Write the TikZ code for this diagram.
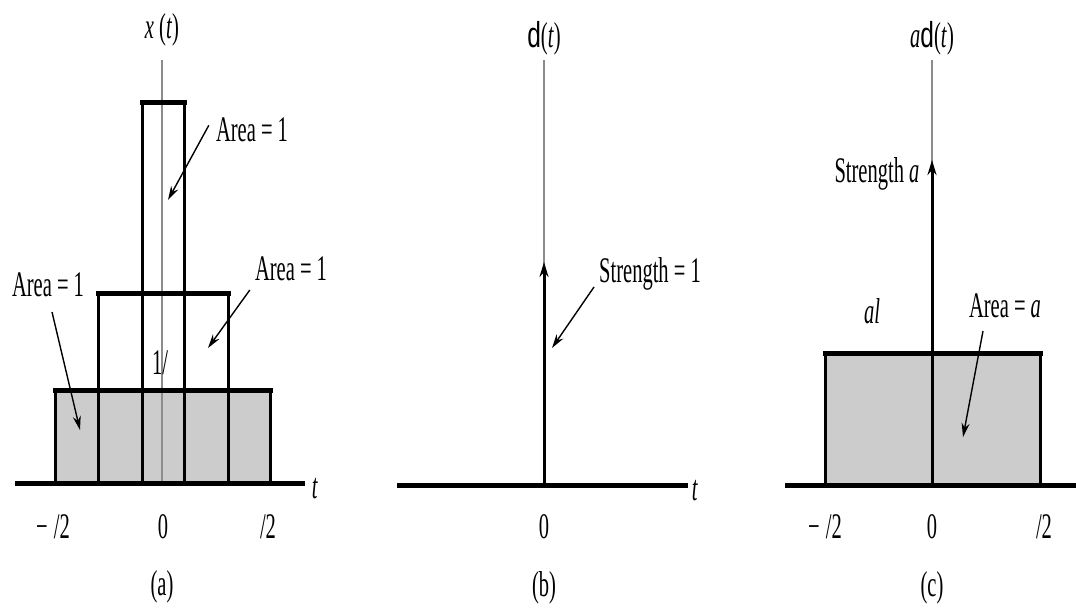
\documentclass[tikz,border=0pt]{standalone}
\usepackage{fontspec}
\setmainfont{Liberation Serif}[FakeStretch=0.57]
\setsansfont{Liberation Sans}[FakeStretch=0.68]
\usetikzlibrary{arrows.meta}

\begin{document}
\begin{tikzpicture}[
    x=1pt, y=-1pt,
    lbl/.style={inner sep=0pt, anchor=base, font=\fontsize{36}{40}\selectfont},
    axisline/.style={line width=5pt},
    side/.style={line width=3pt},
    topline/.style={line width=5pt, line cap=rect},
    guide/.style={black!45, line width=1.2pt},
    shade/.style={fill=black!20},
    callout/.style={-{Stealth[length=14pt, width=8pt]}, line width=1.4pt},
    impulse/.style={-{Stealth[length=15pt, width=9pt]}, line width=3pt}
]
    \useasboundingbox (0,0) rectangle (1076,611);

    % (a) pulses of unit area
    \fill[shade] (55,483) rectangle (270,390);
    \draw[guide] (162,60) -- (162,483);
    \draw[side] (55,483) -- (55,390) (270,390) -- (270,483);
    \draw[side] (98,483) -- (98,293) (228,293) -- (228,483);
    \draw[side] (142,483) -- (142,102) (184,102) -- (184,483);
    \draw[topline] (55,390) -- (270,390);
    \draw[topline] (98,293) -- (228,293);
    \draw[topline] (142,102) -- (184,102);
    \draw[axisline] (15,483) -- (305,483);

    \node[lbl] (xt) at (162,38) {\textit{x} (\textit{t})};
    \node[lbl] (areaA) at (252,141) {Area = 1};
    \node[lbl] (areaB) at (291,280) {Area = 1};
    \node[lbl] (areaC) at (48,296) {Area = 1};
    \node[lbl] (height) at (160,374) {1/};
    \node[lbl] (ta) at (315,498) {\textit{t}};
    \node[lbl] (lefta) at (53,538) {−\,/2};
    \node[lbl] (zeroa) at (163,538) {0};
    \node[lbl] (righta) at (268,538) {/2};
    \node[lbl] (capa) at (162,595) {(a)};

    \coordinate (tipA) at (168,200);
    \coordinate (tipB) at (208,348);
    \coordinate (tipC) at (80,430);
    \draw[callout] ([shift={(-7,-4)}]areaA.west) -- (tipA);
    \draw[callout] ([shift={(-5,10)}]areaB.base west) -- (tipB);
    \draw[callout] ([shift={(4,16)}]areaC.base) -- (tipC);

    % (b) unit impulse
    \draw[guide] (544,60) -- (544,270);
    \draw[impulse] (544,485) -- (544,262);
    \draw[axisline] (397,485) -- (688,485);

    \node[lbl] (dt) at (544,47) {\textsf{d}(\textit{t})};
    \node[lbl] (strength) at (650,282) {Strength = 1};
    \node[lbl] (tb) at (695,500) {\textit{t}};
    \node[lbl] (zerob) at (544,538) {0};
    \node[lbl] (capb) at (544,596) {(b)};

    \coordinate (tipD) at (552,348);
    \draw[callout] ([shift={(-5,5)}]strength.base west) -- (tipD);

    % (c) impulse of strength a
    \fill[shade] (825,485) rectangle (1040,353);
    \draw[guide] (932,60) -- (932,170);
    \draw[side] (825,485) -- (825,353) (1040,353) -- (1040,485);
    \draw[topline] (825,353) -- (1040,353);
    \draw[impulse] (932,485) -- (932,160);
    \draw[axisline] (785,485) -- (1076,485);

    \node[lbl] (adt) at (932,47) {\textit{a}\textsf{d}(\textit{t})};
    \node[lbl] (strengtha) at (877,182) {Strength \textit{a}};
    \node[lbl] (al) at (872,323) {\textit{al}};
    \node[lbl] (areaa) at (1005,317) {Area = \textit{a}};
    \node[lbl] (leftc) at (825,538) {−\,/2};
    \node[lbl] (zeroc) at (932,538) {0};
    \node[lbl] (rightc) at (1044,538) {/2};
    \node[lbl] (capc) at (932,596) {(c)};

    \coordinate (tipE) at (963,437);
    \draw[callout] ([shift={(-22,14)}]areaa.base) -- (tipE);
\end{tikzpicture}
\end{document}
